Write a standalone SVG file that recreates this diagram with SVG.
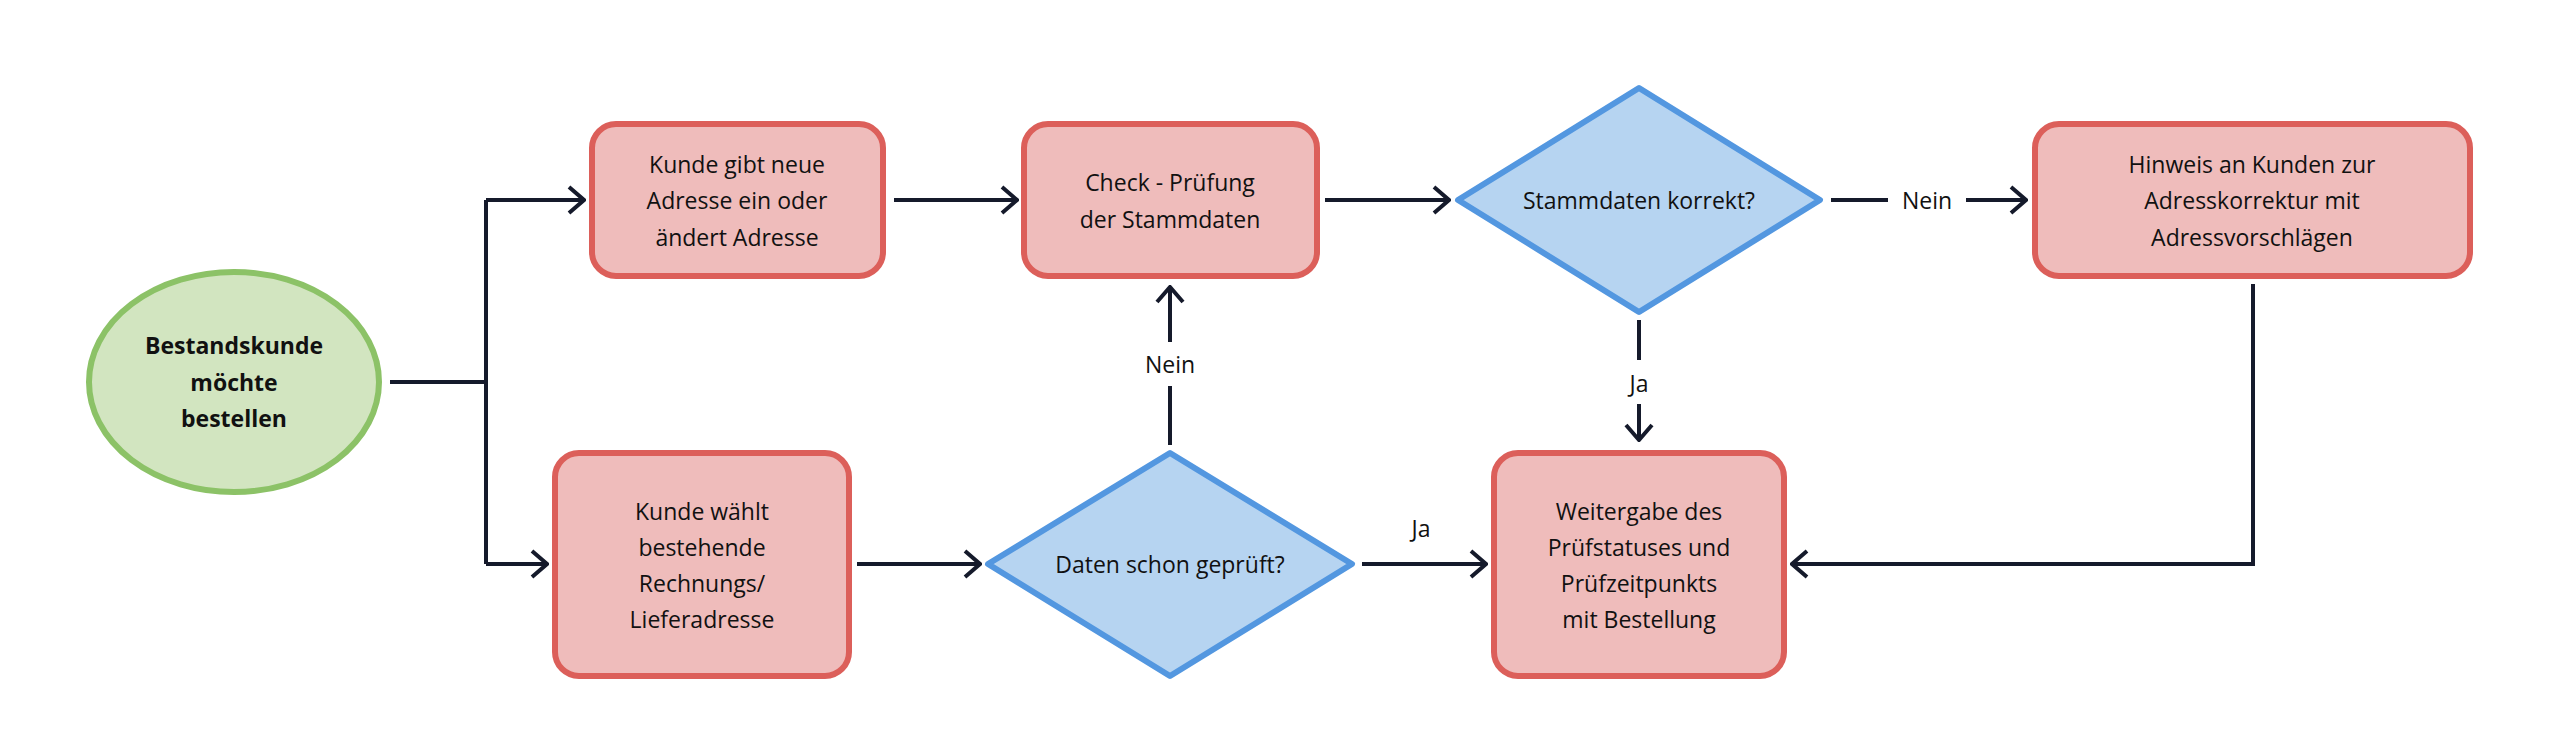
<svg xmlns="http://www.w3.org/2000/svg" width="2556" height="756" viewBox="0 0 2556 756">
<style>
.box{fill:#efbcbb;stroke:#dc5f5a;stroke-width:6}
.dia{fill:#b6d4f1;stroke:#5397e0;stroke-width:6;stroke-linejoin:round}
.ell{fill:#d2e5c0;stroke:#8cc267;stroke-width:6}
text{font-family:"Open Sans","Liberation Sans",sans-serif;font-size:23px;fill:#111;text-anchor:middle}
.b{font-weight:bold}
.c{fill:none;stroke:#151a2b;stroke-width:4}
.lb{fill:#fff}
</style>
<defs>
<marker id="a" viewBox="0 0 20 30" refX="18" refY="15" markerWidth="20" markerHeight="30" markerUnits="userSpaceOnUse" orient="auto">
<path d="M3,2 L18,15 L3,28" fill="none" stroke="#151a2b" stroke-width="4"/>
</marker>
</defs>
<rect width="2556" height="756" fill="#fff"/>
<g id="connectors">
<path class="c" d="M390,382 H486 M486,200 V564"/>
<path class="c" d="M486,200 H584" marker-end="url(#a)"/>
<path class="c" d="M486,564 H547" marker-end="url(#a)"/>
<path class="c" d="M894,200 H1017" marker-end="url(#a)"/>
<path class="c" d="M857,564 H980" marker-end="url(#a)"/>
<path class="c" d="M1170,445 V287" marker-end="url(#a)"/>
<rect class="lb" x="1140" y="342" width="60" height="44"/>
<text x="1170" y="373">Nein</text>
<path class="c" d="M1325,200 H1449" marker-end="url(#a)"/>
<path class="c" d="M1831,200 H2026" marker-end="url(#a)"/>
<rect class="lb" x="1888" y="178" width="78" height="44"/>
<text x="1927" y="209">Nein</text>
<path class="c" d="M1639,320 V440" marker-end="url(#a)"/>
<rect class="lb" x="1619" y="360" width="40" height="44"/>
<text x="1639" y="392">Ja</text>
<path class="c" d="M1362,564 H1486" marker-end="url(#a)"/>
<rect class="lb" x="1401" y="506" width="40" height="44"/>
<text x="1421" y="537">Ja</text>
<path class="c" d="M2253,284 V564 H1792" marker-end="url(#a)"/>
</g>
<g id="start">
<ellipse class="ell" cx="234" cy="382" rx="145" ry="110"/>
<text class="b" x="234" y="354">Bestandskunde</text>
<text class="b" x="234" y="391">möchte</text>
<text class="b" x="234" y="427">bestellen</text>
</g>
<g id="neue-adresse">
<rect class="box" x="592" y="124" width="291" height="152" rx="24"/>
<text x="737" y="173">Kunde gibt neue</text>
<text x="737" y="209">Adresse ein oder</text>
<text x="737" y="246">ändert Adresse</text>
</g>
<g id="check">
<rect class="box" x="1024" y="124" width="293" height="152" rx="24"/>
<text x="1170" y="191">Check - Prüfung</text>
<text x="1170" y="228">der Stammdaten</text>
</g>
<g id="waehlt">
<rect class="box" x="555" y="453" width="294" height="223" rx="24"/>
<text x="702" y="520">Kunde wählt</text>
<text x="702" y="556">bestehende</text>
<text x="702" y="592">Rechnungs/</text>
<text x="702" y="628">Lieferadresse</text>
</g>
<g id="geprueft">
<polygon class="dia" points="1170,453 1352,564 1170,676 988,564"/>
<text x="1170" y="573">Daten schon geprüft?</text>
</g>
<g id="korrekt">
<polygon class="dia" points="1639,88 1820,200 1639,312 1458,200"/>
<text x="1639" y="209">Stammdaten korrekt?</text>
</g>
<g id="hinweis">
<rect class="box" x="2035" y="124" width="435" height="152" rx="24"/>
<text x="2252" y="173">Hinweis an Kunden zur</text>
<text x="2252" y="209">Adresskorrektur mit</text>
<text x="2252" y="246">Adressvorschlägen</text>
</g>
<g id="weitergabe">
<rect class="box" x="1494" y="453" width="290" height="223" rx="24"/>
<text x="1639" y="520">Weitergabe des</text>
<text x="1639" y="556">Prüfstatuses und</text>
<text x="1639" y="592">Prüfzeitpunkts</text>
<text x="1639" y="628">mit Bestellung</text>
</g>
</svg>
